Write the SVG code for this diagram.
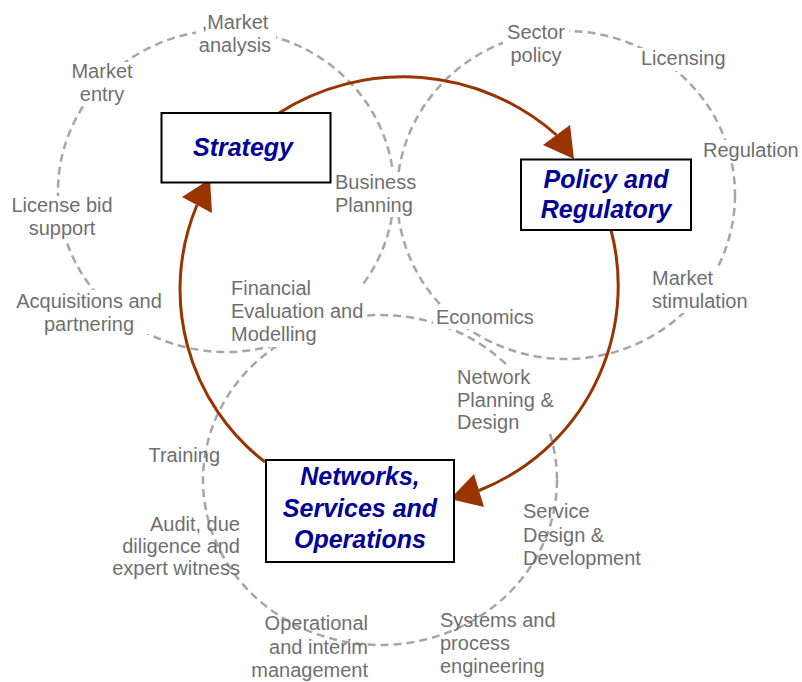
<svg xmlns="http://www.w3.org/2000/svg" width="802" height="682" viewBox="0 0 802 682">
<style>
.ring{fill:none;stroke:#a6a6a6;stroke-width:2.5;stroke-dasharray:8 5}
.bg{fill:#ffffff}
.lbl{font-family:"Liberation Sans",Arial,sans-serif;font-size:20px;fill:#6f6f6f}
.mid{text-anchor:middle}
.end{text-anchor:end}
.arc{fill:none;stroke:#993300;stroke-width:3}
.ah{fill:#993300}
.box{fill:#ffffff;stroke:#000000;stroke-width:2}
.title{font-family:"Liberation Sans",Arial,sans-serif;font-size:25px;font-weight:bold;font-style:italic;fill:#000099;text-anchor:middle}
</style>
<rect width="802" height="682" fill="#ffffff"/>
<g id="rings">
<ellipse class="ring" cx="226" cy="191" rx="168" ry="161"/>
<ellipse class="ring" cx="566" cy="195" rx="169" ry="164"/>
<ellipse class="ring" cx="380" cy="480" rx="177" ry="165"/>
</g>
<g id="label-backgrounds">
<rect class="bg" x="196" y="13" width="80" height="45"/>
<rect class="bg" x="68" y="62" width="69" height="44"/>
<rect class="bg" x="9" y="196" width="107" height="44"/>
<rect class="bg" x="13" y="290" width="153" height="44"/>
<rect class="bg" x="332" y="172" width="85" height="45"/>
<rect class="bg" x="228" y="284" width="139" height="63"/>
<rect class="bg" x="503" y="22" width="66" height="45"/>
<rect class="bg" x="638" y="48" width="90" height="23"/>
<rect class="bg" x="700" y="140" width="100" height="23"/>
<rect class="bg" x="649" y="268" width="101" height="45"/>
<rect class="bg" x="433" y="307" width="103" height="22"/>
<rect class="bg" x="454" y="367" width="102" height="67"/>
</g>
<g id="labels">
<text class="lbl mid" x="235" y="29">,Market</text>
<text class="lbl mid" x="235" y="52">analysis</text>
<text class="lbl mid" x="102" y="78">Market</text>
<text class="lbl mid" x="102" y="101">entry</text>
<text class="lbl mid" x="62" y="212">License bid</text>
<text class="lbl mid" x="62" y="235">support</text>
<text class="lbl mid" x="89" y="308">Acquisitions and</text>
<text class="lbl mid" x="89" y="331">partnering</text>
<text class="lbl" x="335" y="189">Business</text>
<text class="lbl" x="335" y="212">Planning</text>
<text class="lbl" x="231" y="295">Financial</text>
<text class="lbl" x="231" y="318">Evaluation and</text>
<text class="lbl" x="231" y="341">Modelling</text>
<text class="lbl mid" x="536" y="39">Sector</text>
<text class="lbl mid" x="536" y="62">policy</text>
<text class="lbl" x="641" y="65">Licensing</text>
<text class="lbl" x="703" y="157">Regulation</text>
<text class="lbl" x="652" y="285">Market</text>
<text class="lbl" x="652" y="308">stimulation</text>
<text class="lbl" x="436" y="324">Economics</text>
<text class="lbl" x="457" y="384">Network</text>
<text class="lbl" x="457" y="407">Planning &amp;</text>
<text class="lbl" x="457" y="429">Design</text>
<text class="lbl" x="523" y="518">Service</text>
<text class="lbl" x="523" y="542">Design &amp;</text>
<text class="lbl" x="523" y="565">Development</text>
<text class="lbl" x="440" y="627">Systems and</text>
<text class="lbl" x="440" y="650">process</text>
<text class="lbl" x="440" y="673">engineering</text>
<text class="lbl end" x="368" y="630">Operational</text>
<text class="lbl end" x="368" y="654">and interim</text>
<text class="lbl end" x="368" y="677">management</text>
<text class="lbl end" x="240" y="531">Audit, due</text>
<text class="lbl end" x="240" y="553">diligence and</text>
<text class="lbl end" x="240" y="575">expert witness</text>
<text class="lbl end" x="220" y="462">Training</text>
</g>
<g id="connectors">
<path class="arc" d="M279,113 A231,231 0 0 1 556.5,135"/>
<polygon class="ah" points="543,145 570,125 574,159"/>
<path class="arc" d="M611,230 A220,220 0 0 1 479,490.5"/>
<polygon class="ah" points="474,474 484,507 450,499"/>
<path class="arc" d="M265,462 A218,218 0 0 1 197,205"/>
<polygon class="ah" points="182,197 210,179 212,213"/>
</g>
<g id="node-strategy">
<rect class="box" x="161.5" y="113" width="169" height="69.5"/>
<text class="title" x="243" y="156">Strategy</text>
</g>
<g id="node-policy">
<rect class="box" x="521" y="159.5" width="170" height="70.5"/>
<text class="title" x="606" y="188">Policy and</text>
<text class="title" x="606" y="218">Regulatory</text>
</g>
<g id="node-networks">
<rect class="box" x="266" y="460" width="188" height="102"/>
<text class="title" x="360" y="485">Networks,</text>
<text class="title" x="360" y="517">Services and</text>
<text class="title" x="360" y="548">Operations</text>
</g>
</svg>
